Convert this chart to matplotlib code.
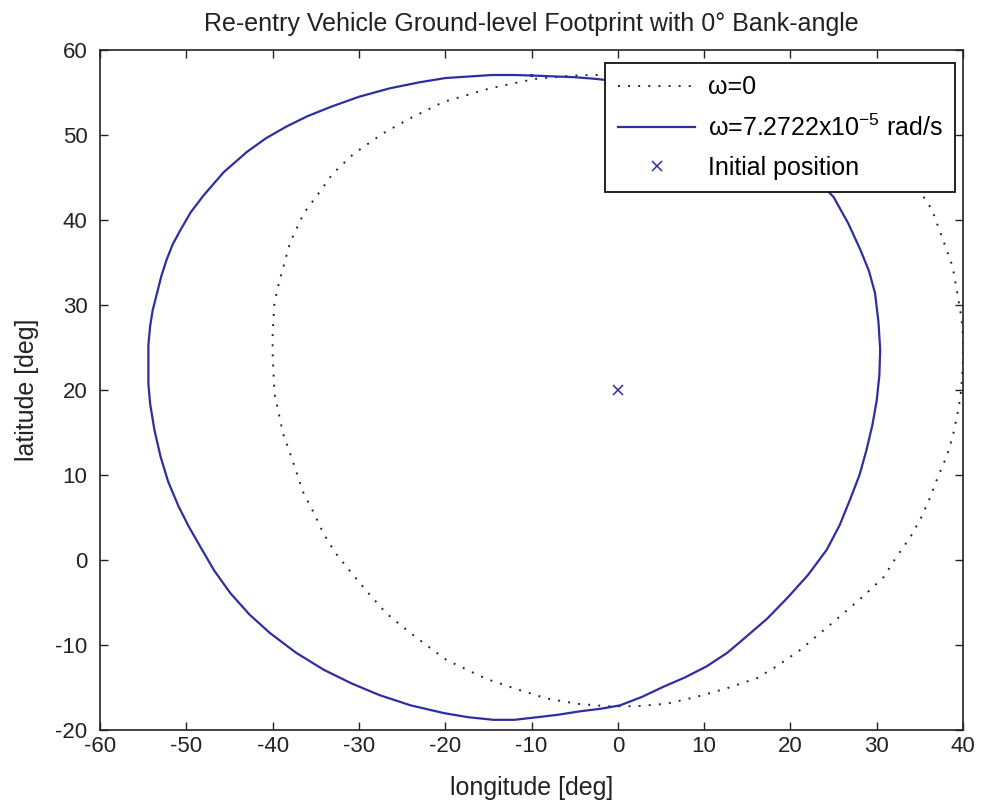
import matplotlib
matplotlib.use("Agg")
import matplotlib.pyplot as plt

plt.rcParams['font.family'] = ['Liberation Sans', 'DejaVu Sans']
plt.rcParams['axes.unicode_minus'] = False
plt.rcParams['mathtext.fontset'] = 'custom'
plt.rcParams['mathtext.rm'] = 'Liberation Sans'

# footprint with earth rotation (omega = 7.2722e-5 rad/s)
rot_lon = [-10, -12, -14.6, -17, -20, -23, -26.4, -30, -33.3, -36, -38.4, -40.8, -43,
           -45.7, -48, -49.5, -50.7, -51.6, -52.3, -52.9, -53.4, -53.9, -54.2, -54.4,
           -54.4, -54.4, -54.2, -53.7, -53, -52.1, -50.9, -49.7, -48.4, -46.8, -44.9,
           -42.7, -40.3, -37.3, -34.1, -30.9, -27.6, -24, -20.2, -17.3, -14.4, -12,
           -9.4, -6.9, -4.4, -2, 0.25, 2.8, 5.3, 7.8, 10.3, 12.7, 14.9, 17.3, 19.6,
           22, 24.2, 25.7, 26.9, 28, 28.8, 29.5, 30, 30.3, 30.4, 30.2, 29.8, 29.1,
           28.1, 26.7, 25, 23.6, 22, 20, 18, 15, 12, 8.5, 5, 2.5, 0, -2.5, -5, -7.5, -10]
rot_lat = [57.0, 57.06, 57.06, 56.9, 56.7, 56.2, 55.5, 54.5, 53.3, 52.2, 51, 49.6, 48,
           45.6, 42.9, 40.9, 38.8, 37.1, 35.3, 33.4, 31.4, 29.4, 27.5, 25.3,
           23.1, 20.7, 18.4, 15.3, 12.2, 9.2, 6.3, 3.9, 1.6, -1.2, -3.9,
           -6.4, -8.6, -10.9, -12.9, -14.5, -15.9, -17.1, -18, -18.5, -18.8, -18.8,
           -18.5, -18.2, -17.8, -17.5, -17.1, -16.1, -14.9, -13.8, -12.5, -10.9, -9, -6.9, -4.5,
           -1.8, 1.2, 4.1, 7.1, 10, 12.9, 15.9, 18.8, 21.7, 24.7, 28, 31.4, 34,
           36.5, 39.6, 42.7, 44.2, 45.5, 47, 48.6, 50.5, 52.3, 53.9, 55.2, 55.9, 56.3, 56.6, 56.8, 56.9, 57.0]

# footprint without rotation (omega = 0)
still_lon = [0, -2.9, -5.2, -9.6, -14.8, -20.2, -24, -27.2, -30.6, -33, -34.7, -36.4,
             -38, -39.3, -39.8, -40, -40, -39.8, -39.3, -38.8, -38, -37.2, -36.4, -35.2,
             -34.1, -32.7, -30.8, -28.9, -26.8, -24.5, -22.2, -19.8, -17.5, -15.2, -11.7,
             -8.2, -4.8, -1.3, 2.2, 5.7, 9.1, 12.6, 16.1, 18.4, 21.1, 25.2, 28.4, 30.8,
             32.3, 33.9, 35.2, 36.2, 37.1, 38.1, 38.8, 39.3, 39.7, 39.9, 40, 40, 39.8,
             39.4, 38.8, 37.7, 36.4, 35.2, 33, 30.6, 27.6, 24, 20.2, 14.8, 9.6, 5.2, 0]
still_lat = [57.1, 57.06, 57.0, 56.6, 55.5, 53.9, 52, 50.2, 47.8, 45.5, 43.1, 40.8,
             37.3, 32.5, 30.2, 26.7, 24.3, 19.6, 17.3, 14.9, 12.6, 10.2, 7.8, 5.5,
             3.1, 0.8, -1.6, -3.9, -6.3, -8.2, -10, -11.8, -12.9, -14, -15.2,
             -16.3, -16.9, -17.2, -17.2, -16.9, -16.1, -15.1, -13.9, -12.5, -10.6, -7.1, -4.3, -2,
             0.4, 2.7, 5.1, 7.4, 9.8, 12.2, 14.5, 16.9, 19.2, 21.6, 23.9, 26.3, 28.6,
             31, 34.5, 37.6, 41.2, 43.1, 45.5, 47.8, 50.2, 52, 53.9, 55.5, 56.6, 57.0, 57.1]

init_lon = [0]
init_lat = [20]

fig = plt.figure(figsize=(9.81, 8.08), dpi=100)
ax = fig.add_axes([0.102, 0.0965, 0.8797, 0.8416])

ax.plot(still_lon, still_lat, color='#20204a', lw=1.4, linestyle=(0, (1, 4.2)),
        label='ω=0')
ax.plot(rot_lon, rot_lat, color='#2e2ea0', lw=1.6,
        label='ω=7.2722x10$^{\\mathrm{-}5}$ rad/s')
ax.plot(init_lon, init_lat, 'x', color='#2e2ea0', ms=7, mew=1.1, linestyle='none',
        label='Initial position')

ax.set_xlim(-60, 40)
ax.set_ylim(-20, 60)
ax.set_xticks(range(-60, 41, 10))
ax.set_yticks(range(-20, 61, 10))
ax.tick_params(direction='in', length=6, width=1, top=True, right=True,
               labelsize=16, colors='#222222', pad=4)
ax.tick_params(axis='y', pad=9)
for s in ax.spines.values():
    s.set_color('#222222')
    s.set_linewidth(1.2)

ax.set_xlabel('longitude [deg]', fontsize=18, color='#222222', labelpad=14)
ax.set_ylabel('latitude [deg]', fontsize=18, color='#222222', labelpad=12)
ax.set_title('Re-entry Vehicle Ground-level Footprint with 0° Bank-angle',
             fontsize=18, color='#222222', pad=14)

leg = ax.legend(loc='upper right', bbox_to_anchor=(0.991, 0.981), borderaxespad=0,
                fontsize=18, fancybox=False, framealpha=1, edgecolor='#111111',
                handlelength=3.1, handletextpad=0.5, labelspacing=0.6,
                borderpad=0.5)
leg.get_frame().set_linewidth(1.3)

fig.savefig('out.png', dpi=100)
